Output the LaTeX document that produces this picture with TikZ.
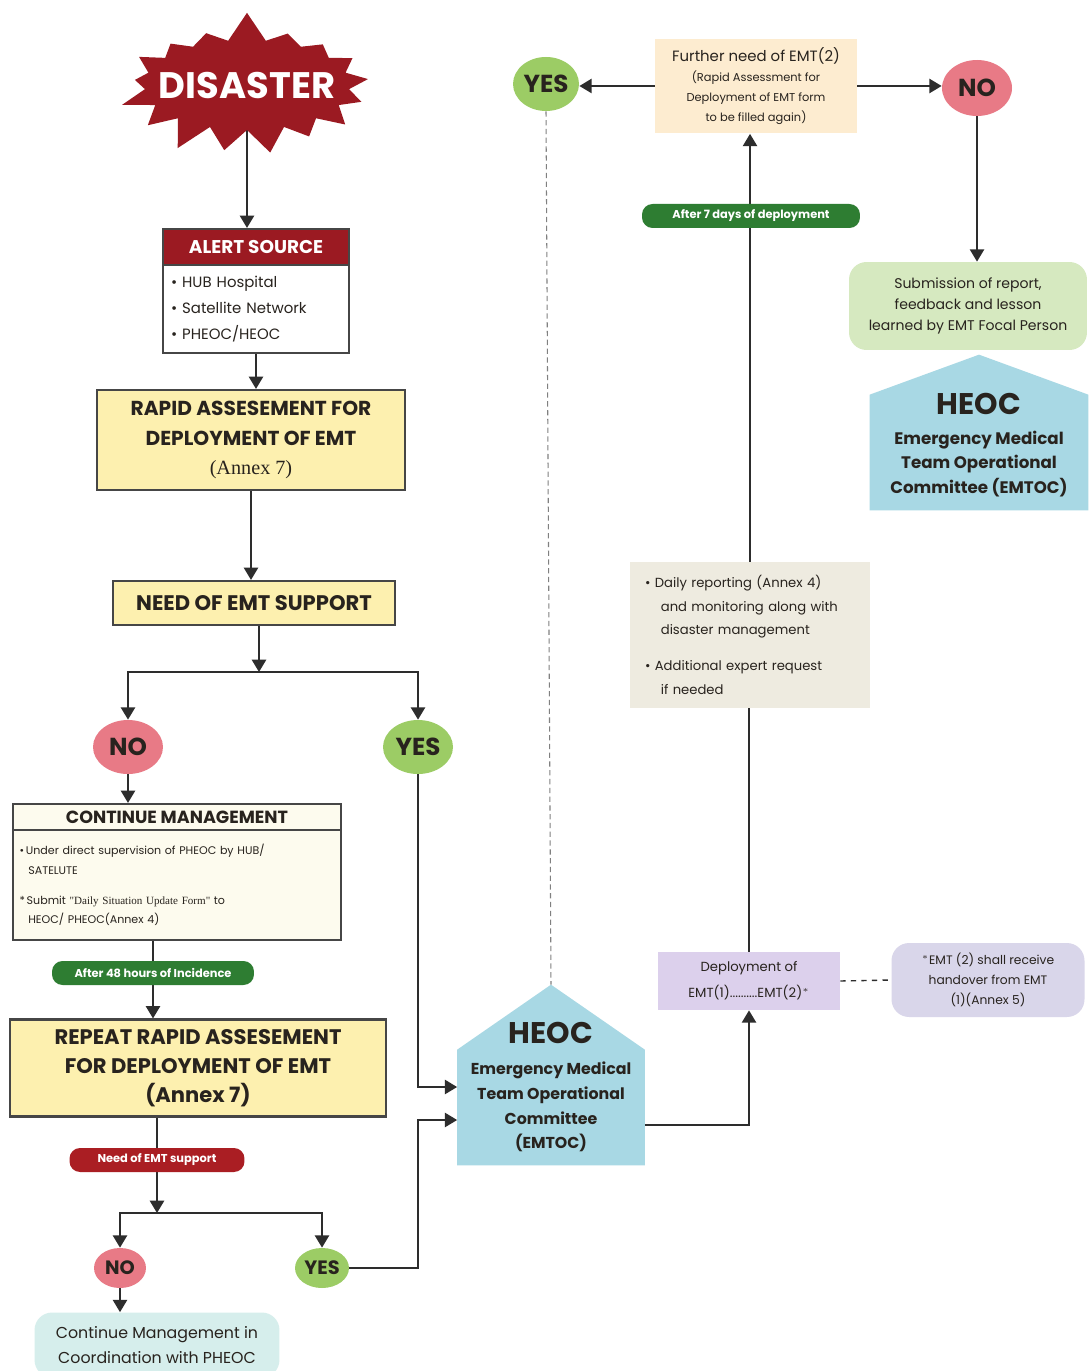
\documentclass[tikz,border=0pt]{standalone}
\usepackage{fontspec}
\setmainfont{Poppins}
\newfontfamily\annexfont{Liberation Serif}
\usetikzlibrary{arrows.meta,shapes.geometric,shapes.symbols,backgrounds}

\definecolor{disred}{RGB}{155,26,34}
\definecolor{linegray}{RGB}{45,45,45}
\definecolor{boxgray}{RGB}{70,70,70}
\definecolor{rapidyellow}{RGB}{253,240,175}
\definecolor{nopink}{RGB}{232,122,134}
\definecolor{yesgreen}{RGB}{156,204,101}
\definecolor{creambg}{RGB}{253,251,238}
\definecolor{taggreen}{RGB}{46,125,50}
\definecolor{tagred}{RGB}{170,30,35}
\definecolor{cyanbg}{RGB}{214,238,236}
\definecolor{heocblue}{RGB}{168,216,228}
\definecolor{lavender}{RGB}{220,208,236}
\definecolor{notelav}{RGB}{217,214,234}
\definecolor{dailybg}{RGB}{238,235,224}
\definecolor{peach}{RGB}{253,236,208}
\definecolor{submitgreen}{RGB}{214,233,192}
\definecolor{textdark}{RGB}{40,35,30}

\newcommand\fsz[2]{\fontsize{#1}{#2}\selectfont}

\tikzset{
  arr/.style={-{Triangle[length=7pt,width=8pt]}, line width=1.3pt, draw=linegray},
  conn/.style={line width=1.3pt, draw=linegray},
  box/.style={draw=boxgray, line width=1.2pt, align=center, inner sep=2pt, text=textdark},
  noball/.style={ellipse, fill=nopink, inner sep=0pt, text=textdark, font=\fsz{14}{16}\bfseries},
  yesball/.style={ellipse, fill=yesgreen, inner sep=0pt, text=textdark, font=\fsz{14}{16}\bfseries},
  tag/.style={rounded corners=6pt, text=white, inner sep=0pt, minimum height=0.48cm, font=\fsz{6.5}{8}\bfseries},
  plain/.style={align=center, inner sep=2pt, text=textdark}
}

\begin{document}
\begin{tikzpicture}[x=0.02cm,y=-0.02cm]

\useasboundingbox (0,0) rectangle (1089,1371);
\begin{scope}[on background layer]
  \fill[white] (0,0) rectangle (1089,1371);
\end{scope}

% Disaster
\node[starburst, random starburst=7, starburst points=17, starburst point height=0.6cm,
  fill=disred, text=white, minimum width=5.3cm, minimum height=3.0cm, inner sep=0pt,
  font=\fsz{21}{24}\bfseries] (disaster) at (247,85) {\makebox[0pt]{DISASTER}};

% Alert source
\node[box, fill=disred, text=white, minimum width=3.72cm, minimum height=0.72cm,
  font=\fsz{10.5}{12}\bfseries] (alerthead) at (256,247) {ALERT SOURCE};
\node[box, fill=white, minimum width=3.72cm, minimum height=1.76cm, text width=3.4cm,
  align=left, font=\fsz{8.5}{15}] (alertbody) at (256,309)
  {\textbullet\ HUB Hospital\\\textbullet\ Satellite Network\\\textbullet\ PHEOC/HEOC};

% Rapid assessment
\node[box, fill=rapidyellow, minimum width=6.16cm, minimum height=2cm,
  font=\fsz{11.5}{17}\bfseries] (rapid) at (251,440)
  {RAPID ASSESEMENT FOR\\DEPLOYMENT OF EMT\\{\annexfont\mdseries (Annex 7)}};

% Need of EMT support
\node[box, fill=rapidyellow, minimum width=5.64cm, minimum height=0.88cm,
  font=\fsz{12}{14}\bfseries] (need) at (254,603) {NEED OF EMT SUPPORT};

\node[noball, minimum width=1.4cm, minimum height=1.08cm] (no1) at (128,747) {NO};
\node[yesball, minimum width=1.4cm, minimum height=1.08cm] (yes1) at (418,747) {YES};

% Continue management
\node[box, fill=creambg, minimum width=6.56cm, minimum height=0.52cm,
  font=\fsz{10}{12}\bfseries] (conthead) at (177,817) {CONTINUE MANAGEMENT};
\node[box, fill=creambg, minimum width=6.56cm, minimum height=2.2cm, text width=6.3cm,
  align=left, font=\fsz{6.3}{11}] (contbody) at (177,885)
  {\textbullet\,Under direct supervision of PHEOC by HUB/\\\hspace*{5pt}SATELUTE\\[6pt]
   *\,Submit {\annexfont "Daily Situation Update Form"} to\\\hspace*{5pt}HEOC/ PHEOC(Annex 4)};

\node[tag, fill=taggreen, minimum width=4.04cm] (g48) at (153,973) {After 48 hours of Incidence};

% Repeat rapid assessment
\node[box, fill=rapidyellow, minimum width=7.52cm, minimum height=1.94cm,
  font=\fsz{12}{16.5}\bfseries] (rep) at (198,1068)
  {REPEAT RAPID ASSESEMENT\\FOR DEPLOYMENT OF EMT\\(Annex 7)};

\node[tag, fill=tagred, minimum width=3.5cm] (needtag) at (157,1160) {Need of EMT support};

\node[noball, minimum width=1.04cm, minimum height=0.8cm, font=\fsz{11}{13}\bfseries] (no2) at (120,1268) {NO};
\node[yesball, minimum width=1.08cm, minimum height=0.8cm, font=\fsz{11}{13}\bfseries] (yes2) at (322,1268) {YES};

\node[plain, fill=cyanbg, rounded corners=10pt, minimum width=4.9cm, minimum height=1.3cm,
  font=\fsz{9}{14}] (contpheoc) at (157,1345)
  {Continue Management in\\Coordination with PHEOC};

% HEOC centre
\node[plain, minimum width=3.74cm, minimum height=3.12cm, font=\fsz{9}{14}\bfseries] (heoc) at (551,1087)
  {{\fsz{17}{20}HEOC}\\[4pt]Emergency Medical\\Team Operational\\Committee\\(EMTOC)};

% Right column
\node[plain, fill=lavender, minimum width=3.64cm, minimum height=1.16cm, font=\fsz{7.5}{15}] (deploy) at (749,981)
  {Deployment of\\EMT(1)..........EMT(2)$^*$};
\node[plain, fill=notelav, rounded corners=10pt, minimum width=3.86cm, minimum height=1.48cm,
  font=\fsz{7}{11.5}] (note) at (988,980)
  {$^*$EMT (2) shall receive\\handover from EMT\\(1)(Annex 5)};

\node[plain, fill=dailybg, minimum width=4.8cm, minimum height=2.92cm, text width=4.2cm, align=left,
  font=\fsz{7.5}{13.5}] (daily) at (750,635)
  {\textbullet\ Daily reporting (Annex 4)\\\hspace*{9pt}and monitoring along with\\\hspace*{9pt}disaster management\\[7pt]
   \textbullet\ Additional expert request\\\hspace*{9pt}if needed};

\node[tag, fill=taggreen, minimum width=4.36cm] (g7) at (751,216) {After 7 days of deployment};

\node[plain, fill=peach, minimum width=4.04cm, minimum height=1.9cm, font=\fsz{6.5}{11.5}] (further) at (756,86)
  {{\fsz{8.5}{13}Further need of EMT(2)}\\(Rapid Assessment for\\Deployment of EMT form\\to be filled again)};

\node[yesball, minimum width=1.32cm, minimum height=1.08cm] (yes3) at (546,84) {YES};
\node[noball, minimum width=1.4cm, minimum height=1.12cm] (no3) at (977,88) {NO};

\node[plain, fill=submitgreen, rounded corners=10pt, minimum width=4.76cm, minimum height=1.76cm,
  font=\fsz{8}{12}] (submit) at (968,306)
  {Submission of report,\\feedback and lesson\\learned by EMT Focal Person};

\node[plain, minimum width=4.36cm, minimum height=2.6cm, font=\fsz{9.5}{14}\bfseries] (heoc2) at (979,445)
  {{\fsz{17}{20}HEOC}\\[3pt]Emergency Medical\\Team Operational\\Committee (EMTOC)};

\begin{scope}[on background layer]
  % house shapes
  \coordinate (heoctop) at ([yshift=0.48cm]heoc.north);
  \fill[heocblue] (heoc.south west) -- (heoc.south east) -- ([yshift=-0.82cm]heoc.north east)
    -- (heoctop) -- ([yshift=-0.82cm]heoc.north west) -- cycle;
  \coordinate (heoc2top) at ([yshift=0.5cm]heoc2.north);
  \fill[heocblue] (heoc2.south west) -- (heoc2.south east) -- ([yshift=-0.3cm]heoc2.north east)
    -- (heoc2top) -- ([yshift=-0.3cm]heoc2.north west) -- cycle;

  % left column
  \draw[arr] (disaster.south) -- (disaster.south |- alerthead.north);
  \draw[arr] (alertbody.south) -- (alertbody.south |- rapid.north);
  \draw[arr] (rapid.south) -- (rapid.south |- need.north);
  \coordinate (split1) at (259,672);
  \draw[arr] (need.south -| split1) -- (split1);
  \draw[arr] (split1) -| (no1.north);
  \draw[arr] (split1) -| (yes1.north);
  \draw[arr] (no1.south) -- (no1.south |- conthead.north);
  \draw[arr] (g48 |- contbody.south) -- (g48 |- rep.north);
  \coordinate (split2) at (157,1213);
  \draw[arr] (needtag |- rep.south) -- (split2);
  \draw[arr] (split2) -| (no2.north);
  \draw[arr] (split2) -| (yes2.north);
  \draw[arr] (no2.south) -- (no2.south |- contpheoc.north);

  % into HEOC
  \draw[arr] (yes1.south) |- (heoc.west);
  \coordinate (heocin2) at ([yshift=-0.66cm]heoc.west);
  \draw[arr] (yes2.east) -- (yes2.east -| yes1.south) |- (heocin2);
  \draw[arr] ([yshift=-0.76cm]heoc.east) -| (deploy.south);

  % right column
  \draw[dashed, line width=0.8pt, draw=linegray] (deploy.east) -- (note.west);
  \draw[conn] (deploy.north) -- (deploy.north |- daily.south);
  \draw[arr] (daily.north) -- (daily.north |- further.south);
  \draw[arr] (further.west) -- (further.west -| yes3.east);
  \draw[arr] (further.east) -- (further.east -| no3.west);
  \draw[densely dashed, line width=0.6pt, draw=gray] (yes3.south) -- (heoctop);
  \draw[arr] (no3.south) -- (no3.south |- submit.north);
\end{scope}

\end{tikzpicture}
\end{document}
